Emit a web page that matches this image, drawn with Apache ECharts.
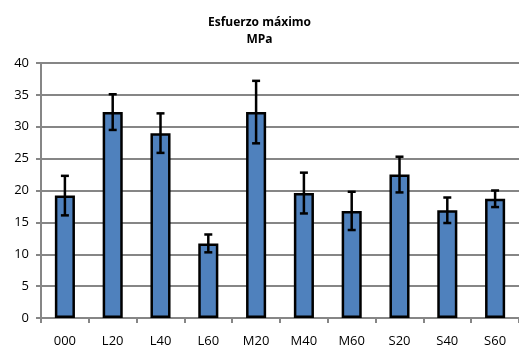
<!DOCTYPE html>
<html>
<head>
<meta charset="utf-8">
<style>
  html, body { margin: 0; padding: 0; background: #fff; }
  #chart { width: 519px; height: 352px; }
</style>
<script src="https://cdn.jsdelivr.net/npm/echarts@6/dist/echarts.min.js"></script>
</head>
<body>
<div id="chart"></div>
<script>
// Maximum stress per mix, mean and standard deviation (MPa)
var categories = ['000', 'L20', 'L40', 'L60', 'M20', 'M40', 'M60', 'S20', 'S40', 'S60'];
var means = [19.2, 32.3, 29.0, 11.7, 32.3, 19.6, 16.8, 22.5, 16.9, 18.7];
var deviations = [3.1, 2.8, 3.1, 1.4, 4.9, 3.2, 3.0, 2.8, 2.0, 1.3];
var yTicks = [0, 5, 10, 15, 20, 25, 30, 35, 40];

var FONT = '"Open Sans", sans-serif';
var chart = echarts.init(document.getElementById('chart'));

var errorData = means.map(function (m, i) {
  return [i, m - deviations[i], m + deviations[i]];
});

chart.setOption({
  animation: false,
  title: {
    text: 'Esfuerzo máximo\nMPa',
    left: 'center',
    top: 9,
    textStyle: { fontFamily: FONT, fontSize: 12, fontWeight: 'bold', color: '#000', lineHeight: 17 }
  },
  grid: { left: 41, right: 0, top: 63, bottom: 34 },
  xAxis: {
    type: 'category',
    data: categories,
    axisLine: { lineStyle: { color: '#868686', width: 2 } },
    axisTick: { show: true, length: 5, lineStyle: { color: '#868686', width: 2 } },
    axisLabel: { fontFamily: FONT, fontSize: 13, color: '#000', margin: 17 }
  },
  yAxis: {
    type: 'value',
    min: yTicks[0],
    max: yTicks[yTicks.length - 1],
    interval: 5,
    axisLine: { show: true, lineStyle: { color: '#868686', width: 2 } },
    axisTick: { show: true, length: 5, lineStyle: { color: '#868686', width: 2 } },
    splitLine: { lineStyle: { color: '#868686', width: 2 } },
    axisLabel: { fontFamily: FONT, fontSize: 13, color: '#000', margin: 12 }
  },
  series: [
    {
      type: 'bar',
      data: means,
      barWidth: '42%',
      itemStyle: { color: '#4F81BD', borderColor: '#000', borderWidth: 2.5 }
    },
    {
      type: 'custom',
      data: errorData,
      z: 10,
      renderItem: function (params, api) {
        var x = api.value(0);
        var lo = api.coord([x, api.value(1)]);
        var hi = api.coord([x, api.value(2)]);
        var cap = 4;
        var style = { stroke: '#000', lineWidth: 2.5, fill: null };
        return {
          type: 'group',
          children: [
            { type: 'line', shape: { x1: lo[0], y1: lo[1], x2: hi[0], y2: hi[1] }, style: style },
            { type: 'line', shape: { x1: hi[0] - cap, y1: hi[1], x2: hi[0] + cap, y2: hi[1] }, style: style },
            { type: 'line', shape: { x1: lo[0] - cap, y1: lo[1], x2: lo[0] + cap, y2: lo[1] }, style: style }
          ]
        };
      }
    }
  ]
});
</script>
</body>
</html>
